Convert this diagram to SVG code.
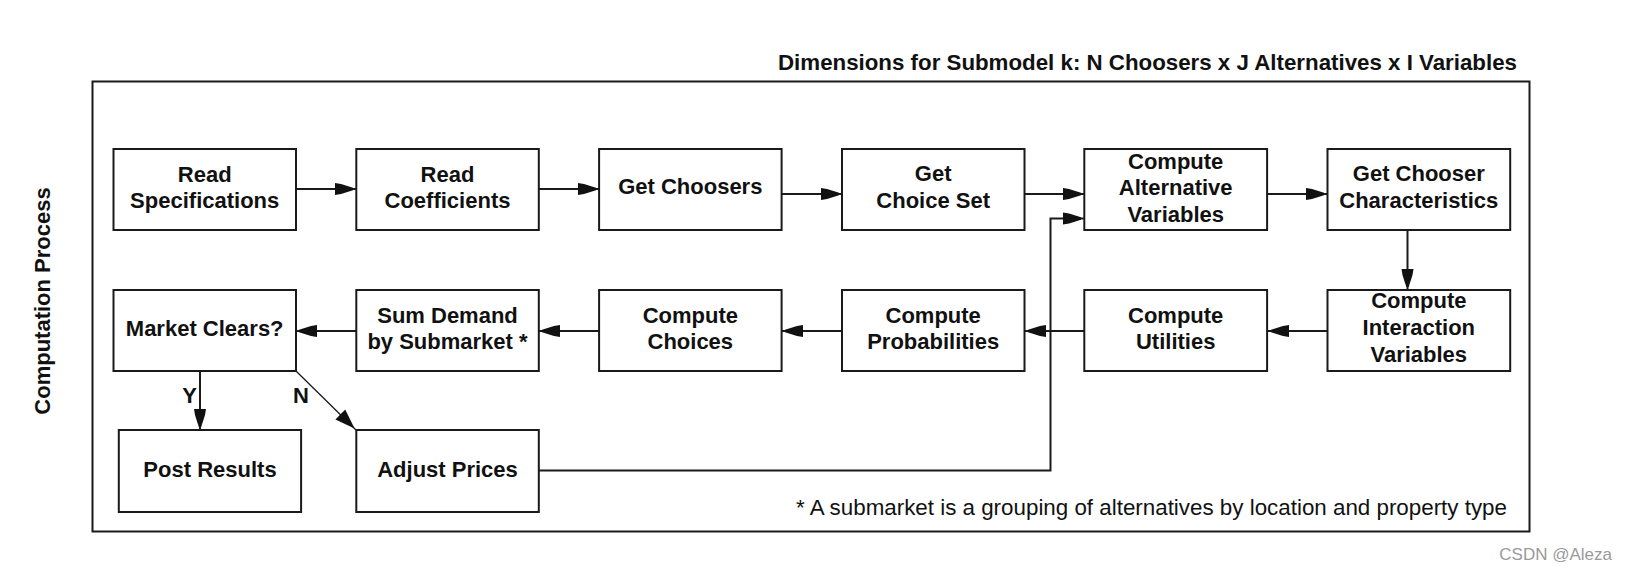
<svg xmlns="http://www.w3.org/2000/svg" width="1627" height="570" viewBox="0 0 1627 570">
<style>
.box{fill:#fff;stroke:#1a1a1a;stroke-width:2}
.lbl{font-family:"Liberation Sans",Arial,sans-serif;font-weight:bold;font-size:22px;fill:#111;text-anchor:middle}
.conn{fill:none;stroke:#1a1a1a;stroke-width:2}
.thin{fill:none;stroke:#1a1a1a;stroke-width:1.3}
.note{font-family:"Liberation Sans",Arial,sans-serif;font-size:22px;fill:#111}
</style>
<defs>
<marker id="ah" markerUnits="userSpaceOnUse" markerWidth="30" markerHeight="20" viewBox="-25 -10 30 20" refX="0" refY="0" orient="auto" overflow="visible">
<path d="M-21,-6 L-15,-5 L-3,-1.2 L-3,1.2 L-15,5 L-21,6 Z" fill="#111"/>
</marker>
<marker id="ah2" markerUnits="userSpaceOnUse" markerWidth="30" markerHeight="20" viewBox="-25 -10 30 20" refX="0" refY="0" orient="auto" overflow="visible">
<path d="M-22,-7 L-2,0 L-22,7 Z" fill="#111"/>
</marker>
</defs>
<rect width="1627" height="570" fill="#fff"/>

<g id="frame">
<rect x="92.5" y="81.5" width="1437" height="450" fill="none" stroke="#1a1a1a" stroke-width="2"/>
<text class="lbl" x="1147.5" y="70" textLength="739" lengthAdjust="spacingAndGlyphs">Dimensions for Submodel k: N Choosers x J Alternatives x I Variables</text>
<text class="lbl" transform="translate(50,301) rotate(-90)">Computation Process</text>
<text class="note" x="796" y="515" textLength="711" lengthAdjust="spacingAndGlyphs">* A submarket is a grouping of alternatives by location and property type</text>
<text x="1612" y="560" font-family="Liberation Sans,Arial,sans-serif" font-size="17" fill="#9a9a9a" text-anchor="end">CSDN @Aleza</text>
</g>

<g id="connectors">
<line class="conn" x1="296" y1="189" x2="356" y2="189" marker-end="url(#ah)"/>
<line class="conn" x1="539" y1="189" x2="599" y2="189" marker-end="url(#ah)"/>
<line class="conn" x1="782" y1="194" x2="842" y2="194" marker-end="url(#ah)"/>
<line class="conn" x1="1025" y1="194" x2="1084" y2="194" marker-end="url(#ah)"/>
<line class="conn" x1="1268" y1="194" x2="1327" y2="194" marker-end="url(#ah)"/>
<line class="conn" x1="1407.5" y1="230" x2="1407.5" y2="290" marker-end="url(#ah)"/>
<line class="conn" x1="1327" y1="331" x2="1268" y2="331" marker-end="url(#ah)"/>
<line class="conn" x1="1084" y1="331" x2="1025" y2="331" marker-end="url(#ah)"/>
<line class="conn" x1="842" y1="331" x2="782" y2="331" marker-end="url(#ah)"/>
<line class="conn" x1="599" y1="331" x2="539" y2="331" marker-end="url(#ah)"/>
<line class="conn" x1="356" y1="331" x2="296" y2="331" marker-end="url(#ah)"/>
<line class="conn" x1="200" y1="371" x2="200" y2="430" marker-end="url(#ah)"/>
<line class="thin" x1="296" y1="371" x2="356" y2="430" marker-end="url(#ah2)"/>
<path class="conn" d="M539,470.5 H1050.5 V218.5 H1084" marker-end="url(#ah)"/>
<text class="lbl" x="189.5" y="402.5">Y</text>
<text class="lbl" x="301" y="403">N</text>
</g>

<g id="read-specifications">
<rect class="box" x="113.5" y="149" width="182.5" height="81"/>
<text class="lbl" x="204.7" y="181.7">Read</text>
<text class="lbl" x="204.7" y="208.3">Specifications</text>
</g>
<g id="read-coefficients">
<rect class="box" x="356.3" y="149" width="182.5" height="81"/>
<text class="lbl" x="447.5" y="181.7">Read</text>
<text class="lbl" x="447.5" y="208.3">Coefficients</text>
</g>
<g id="get-choosers">
<rect class="box" x="599.1" y="149" width="182.5" height="81"/>
<text class="lbl" x="690.3" y="194.3">Get Choosers</text>
</g>
<g id="get-choice-set">
<rect class="box" x="842" y="149" width="182.5" height="81"/>
<text class="lbl" x="933.2" y="180.5">Get</text>
<text class="lbl" x="933.2" y="208.3">Choice Set</text>
</g>
<g id="compute-alternative-variables">
<rect class="box" x="1084.3" y="149" width="182.8" height="81"/>
<text class="lbl" x="1175.7" y="169">Compute</text>
<text class="lbl" x="1175.7" y="194.5">Alternative</text>
<text class="lbl" x="1175.7" y="221.5">Variables</text>
</g>
<g id="get-chooser-characteristics">
<rect class="box" x="1327.5" y="149" width="182.7" height="81"/>
<text class="lbl" x="1418.8" y="180.7">Get Chooser</text>
<text class="lbl" x="1418.8" y="208.3">Characteristics</text>
</g>

<g id="market-clears">
<rect class="box" x="113.5" y="290" width="182.5" height="81"/>
<text class="lbl" x="204.7" y="336">Market Clears?</text>
</g>
<g id="sum-demand">
<rect class="box" x="356.3" y="290" width="182.5" height="81"/>
<text class="lbl" x="447.5" y="323.3">Sum Demand</text>
<text class="lbl" x="447.5" y="349.3">by Submarket *</text>
</g>
<g id="compute-choices">
<rect class="box" x="599.1" y="290" width="182.5" height="81"/>
<text class="lbl" x="690.3" y="323.3">Compute</text>
<text class="lbl" x="690.3" y="349.3">Choices</text>
</g>
<g id="compute-probabilities">
<rect class="box" x="842" y="290" width="182.5" height="81"/>
<text class="lbl" x="933.2" y="323.3">Compute</text>
<text class="lbl" x="933.2" y="349.3">Probabilities</text>
</g>
<g id="compute-utilities">
<rect class="box" x="1084.3" y="290" width="182.8" height="81"/>
<text class="lbl" x="1175.7" y="323.3">Compute</text>
<text class="lbl" x="1175.7" y="349.3">Utilities</text>
</g>
<g id="compute-interaction-variables">
<rect class="box" x="1327.5" y="290" width="182.7" height="81"/>
<text class="lbl" x="1418.8" y="308.3">Compute</text>
<text class="lbl" x="1418.8" y="335">Interaction</text>
<text class="lbl" x="1418.8" y="361.7">Variables</text>
</g>

<g id="post-results">
<rect class="box" x="118.8" y="430" width="182.3" height="82"/>
<text class="lbl" x="210" y="476.7">Post Results</text>
</g>
<g id="adjust-prices">
<rect class="box" x="356.3" y="430" width="182.5" height="82"/>
<text class="lbl" x="447.5" y="476.7">Adjust Prices</text>
</g>
</svg>
